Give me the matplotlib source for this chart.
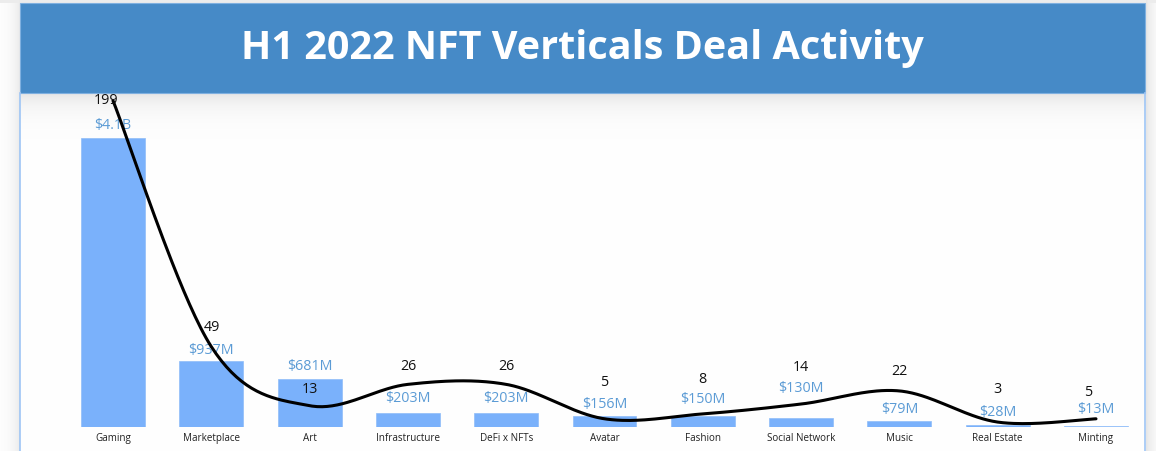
import numpy as np
import matplotlib
matplotlib.use("Agg")
import matplotlib.pyplot as plt
from matplotlib.patches import Rectangle

# ---- data ----
categories = ["Gaming", "Marketplace", "Art", "Infrastructure", "DeFi x NFTs", "Avatar",
              "Fashion", "Social Network", "Music", "Real Estate", "Minting"]
funding_musd = [4100, 937, 681, 203, 203, 156, 150, 130, 79, 28, 13]
funding_labels = ["$4.1B", "$937M", "$681M", "$203M", "$203M", "$156M",
                  "$150M", "$130M", "$79M", "$28M", "$13M"]
deal_counts = [199, 49, 13, 26, 26, 5, 8, 14, 22, 3, 5]
title = "H1 2022 NFT Verticals Deal Activity"

# ---- style / label placement (pixels above anchor) ----
bar_label_dy = [12, 10, 12, 14, 14, 12, 17, 29, 12, 13, 17]
count_label_dy = [0, 19, 16, 18, 18, 36, 34, 37, 19, 33, 26]
count_label_dx = [-7, 1, 0, 0, 0, 0, 0, 0, 0, 0, -8]

W, H, DPI = 1156, 451, 100
fig = plt.figure(figsize=(W / DPI, H / DPI), dpi=DPI)
fig.patch.set_facecolor("white")

# background with soft shadows
bg = fig.add_axes([0, 0, 1, 1], zorder=0)
bg.set_xlim(0, W); bg.set_ylim(H, 0); bg.axis("off")
yy, xx = np.mgrid[0:H, 0:W]
shade = np.zeros((H, W))
below = (yy >= 93) & (xx >= 20) & (xx <= 1145)
shade[below] = np.maximum(shade[below], 0.11 * np.exp(-(yy[below] - 93) / 14.0))
left = xx < 20
shade[left] = np.maximum(shade[left], 0.10 * np.exp(-(20 - xx[left]) / 8.0))
right = xx > 1145
shade[right] = np.maximum(shade[right], 0.12 * np.exp(-(xx[right] - 1145) / 8.0))
top = yy < 3
shade[top] = np.maximum(shade[top], 0.08)
img = np.ones((H, W, 3)) * (1 - shade[..., None] * 0.9)
bg.imshow(img, extent=(0, W, H, 0), aspect="auto", interpolation="bilinear")

# banner
bg.add_patch(Rectangle((20, 3), 1125, 90, facecolor="#468ac7", edgecolor="#7fb0e0", lw=0.8))
bg.text(582, 49, title, color="white", fontsize=28.5, fontweight="bold",
        family="Open Sans", ha="center", va="center")
bg.plot([20, 20], [93, H], color="#9ec5f5", lw=1.2)
bg.plot([1145, 1145], [93, H], color="#9ec5f5", lw=1.2)

# main axes
x0_px, x1_px, c0_px, step_px = 20, 1145, 113, 98.3
base_px, top_px = 427, 95
ax = fig.add_axes([x0_px / W, (H - base_px) / H, (x1_px - x0_px) / W, (base_px - top_px) / H], zorder=2)
ax.patch.set_alpha(0)
ax.set_xlim((x0_px - c0_px) / step_px, (x1_px - c0_px) / step_px)
plot_h = base_px - top_px
ax.set_ylim(0, 4100 * plot_h / 289.0)
x = np.arange(len(categories))
ax.bar(x, funding_musd, width=0.65, color="#7ab1fb", edgecolor="#8fbdf8", linewidth=0.5, zorder=2)
for s in ax.spines.values():
    s.set_visible(False)
ax.set_yticks([])
ax.set_xticks(x)
ax.set_xticklabels(categories, fontsize=7.1, color="#222222", family="Open Sans")
ax.tick_params(axis="x", length=0, pad=4)

for xi, v, lab, dy in zip(x, funding_musd, funding_labels, bar_label_dy):
    ax.annotate(lab, (xi, v), xytext=(0, dy * 72 / DPI), textcoords="offset points",
                ha="center", va="center", fontsize=10.3, color="#5b9bd5", family="Open Sans")

# line on twin axis
ax2 = ax.twinx()
ax2.set_ylim(0, plot_h / 1.64)
ax2.set_yticks([])
for s in ax2.spines.values():
    s.set_visible(False)

def catmull_rom(px, py, n=40):
    P = np.column_stack([px, py]).astype(float)
    P = np.vstack([P[0], P, P[-1]])
    out = []
    for i in range(1, len(P) - 2):
        p0, p1, p2, p3 = P[i - 1], P[i], P[i + 1], P[i + 2]
        c1 = p1 + (p2 - p0) / 6.0
        c2 = p2 - (p3 - p1) / 6.0
        t = np.linspace(0, 1, n)[:, None]
        seg = ((1 - t) ** 3) * p1 + 3 * ((1 - t) ** 2) * t * c1 + 3 * (1 - t) * t ** 2 * c2 + t ** 3 * p2
        out.append(seg if i == 1 else seg[1:])
    return np.vstack(out)

curve = catmull_rom(x, deal_counts)
ax2.plot(curve[:, 0], curve[:, 1], color="black", lw=2.2, zorder=3, solid_capstyle="round")
ax2.set_zorder(3); ax2.patch.set_alpha(0)
for xi, v, dy, dx in zip(x, deal_counts, count_label_dy, count_label_dx):
    ax2.annotate(str(v), (xi, v), xytext=(dx * 72 / DPI, dy * 72 / DPI), textcoords="offset points",
                 ha="center", va="center", fontsize=10.3, color="#111111", family="Open Sans")

fig.savefig("out.png", dpi=DPI)
